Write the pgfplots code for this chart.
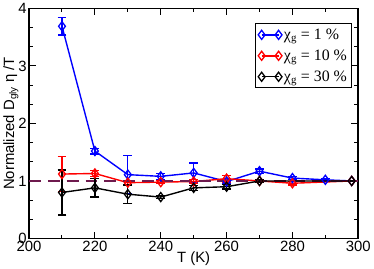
\documentclass[border=0pt]{standalone}
\usepackage{fontspec}
\setmainfont{Liberation Sans}
\newfontfamily\legserif{Liberation Serif}
\usepackage{pgfplots}
\pgfplotsset{compat=1.18}
\definecolor{dashc}{HTML}{6E1A4E}
\begin{document}
\begin{tikzpicture}
\begin{axis}[
  scale only axis,
  width=332pt, height=232pt,
  xmin=200, xmax=300, ymin=0, ymax=4,
  xtick={200,220,...,300}, ytick={0,1,2,3,4},
  minor x tick num=1, minor y tick num=2,
  tick align=inside,
  major tick length=7pt, minor tick length=4pt,
  axis line style={line width=1.6pt},
  every tick/.style={line width=1pt, black},
  tick label style={font=\fontsize{15}{17}\selectfont},
  xticklabel style={yshift=1pt},
  yticklabel style={xshift=1pt},
  /pgf/number format/assume math mode=true,
  xlabel={T (K)},
  ylabel={Normalized D$_{\mbox{\fontsize{10}{11}\selectfont gly}}$ η /T},
  label style={font=\fontsize{15}{17}\selectfont},
  xlabel style={yshift=7pt},
  ylabel style={yshift=-7pt},
  legend style={at={(0.982,0.935)}, anchor=north east, draw=black, line width=1pt,
    font=\legserif\fontsize{16}{19}\selectfont, row sep=5pt, inner sep=3pt},
  legend cell align=left,
  legend image code/.code={\draw[#1,mark repeat=1] plot coordinates {(0cm,0cm)(0.6cm,0cm)};},
  every axis plot/.append style={line width=1.4pt, mark=diamond, mark size=4.6pt,
    mark options={solid, line width=1.3pt, fill=none},
    error bars/error bar style={line width=1.3pt}, error bars/error mark options={line width=1.3pt, mark size=4.5pt, rotate=90}},
]
\addplot[blue, error bars/.cd, y dir=both, y explicit] table[x=T, y=v, y error=e] {
T v e
210 3.69 0.15
220 1.52 0.05
230 1.11 0.33
240 1.08 0.05
250 1.14 0.17
260 0.99 0.04
270 1.17 0.04
280 1.05 0.03
290 1.02 0.02
298 1.00 0.00
};
\addlegendentry{χ$_{\mbox{\legserif\fontsize{11}{12}\selectfont g}}$ = 1 \%}
\addplot[red, error bars/.cd, y dir=both, y explicit] table[x=T, y=v, y error=e] {
T v e
210 1.12 0.30
220 1.13 0.05
230 0.97 0.04
240 0.98 0.03
250 0.99 0.03
260 1.04 0.06
270 1.00 0.02
280 0.96 0.03
298 1.00 0.00
};
\addlegendentry{χ$_{\mbox{\legserif\fontsize{11}{12}\selectfont g}}$ = 10 \%}
\addplot[dashc, dashed, dash pattern=on 12pt off 7pt, line width=2pt, mark=none, forget plot] coordinates {(200,1) (300,1)};
\addplot[black, error bars/.cd, y dir=both, y explicit] table[x=T, y=v, y error=e] {
T v e
210 0.80 0.39
220 0.88 0.16
230 0.77 0.16
240 0.72 0.03
250 0.88 0.04
260 0.90 0.04
270 1.00 0.03
298 1.00 0.00
};
\addlegendentry{χ$_{\mbox{\legserif\fontsize{11}{12}\selectfont g}}$ = 30 \%}
\end{axis}
\end{tikzpicture}
\end{document}
